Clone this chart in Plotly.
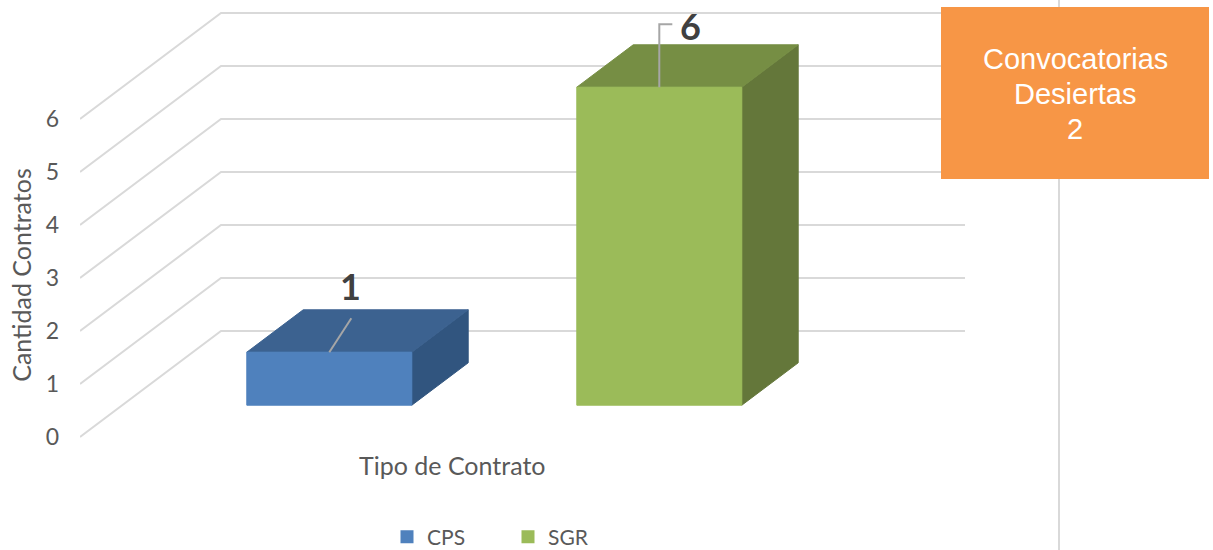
import plotly.graph_objects as go

# ---- data -------------------------------------------------------------
category = "Tipo de Contrato"
series_names = ["CPS", "SGR"]
series_values = [1, 6]
y_ticks = [0, 1, 2, 3, 4, 5, 6]
desiertas = 2

# ---- styling ------------------------------------------------------------
FRONT = ["#4F81BD", "#9BBB59"]
TOP = ["#3C6290", "#768E44"]
SIDE = ["#31557F", "#64773A"]
GRID = "#D9D9D9"
TEXT = "#595959"
LABEL = "#404040"
FONT = "Lato, Calibri, sans-serif"
BOX_FONT = "Liberation Sans, Arial, sans-serif"

W, H = 1213, 550
M_LEFT = 80
PX_X = 744.0          # pixels per x unit (front edge of the floor = 1 unit)
PX_Y = 53.0           # pixels per value unit
Y_BASE = 437.0        # pixel row of value 0 on the front edge

X_RANGE = [0, (W - M_LEFT) / PX_X]
Y_RANGE = [-(H - Y_BASE) / PX_Y, Y_BASE / PX_Y]

# oblique projection of the depth axis
DEPTH_DX = 141 / PX_X
DEPTH_DY = 106 / PX_Y
BAR_W = 165 / PX_X
BAR_Z = (0.3, 0.7)

# per-label placement of the value labels (dx, dy) and their leader shape
LABEL_POS = [(0.028, 1.24), (0.0417, 1.15)]
LEADER_END = [[(0.0296, 0.64)], [(0.0, 1.19), (0.0175, 1.19)]]


def proj(x, v, z):
    return x + z * DEPTH_DX, v + z * DEPTH_DY


def px_to_paper_x(px):
    return (px - M_LEFT) / (W - M_LEFT)


def px_to_paper_y(py):
    return 1 - py / H


fig = go.Figure()

# gridlines: side wall slant then back wall
gx, gy = [], []
for v in y_ticks:
    for (x, z) in [(0, 0), (0, 1), (1, 1)]:
        px, py = proj(x, v, z)
        gx.append(px)
        gy.append(py)
    gx.append(None)
    gy.append(None)
fig.add_trace(go.Scatter(x=gx, y=gy, mode="lines",
                         line=dict(color=GRID, width=2),
                         hoverinfo="skip", showlegend=False))

n = len(series_values)
centers = [0.5 + (i - (n - 1) / 2) * 2 * BAR_W for i in range(n)]


def face(points, color):
    xs, ys = zip(*[proj(*p) for p in points])
    fig.add_trace(go.Scatter(x=list(xs) + [xs[0]], y=list(ys) + [ys[0]],
                             mode="lines", fill="toself", fillcolor=color,
                             line=dict(color=color, width=1),
                             hoverinfo="skip", showlegend=False))


z0, z1 = BAR_Z
for i, (name, v) in enumerate(zip(series_names, series_values)):
    x0, x1 = centers[i] - BAR_W / 2, centers[i] + BAR_W / 2
    face([(x1, 0, z0), (x1, 0, z1), (x1, v, z1), (x1, v, z0)], SIDE[i])
    face([(x0, v, z0), (x1, v, z0), (x1, v, z1), (x0, v, z1)], TOP[i])
    face([(x0, 0, z0), (x1, 0, z0), (x1, v, z0), (x0, v, z0)], FRONT[i])

    # leader line and value label
    ax, ay = proj(centers[i], v, z0)
    lx = [ax] + [ax + dx for dx, dy in LEADER_END[i]]
    ly = [ay] + [ay + dy for dx, dy in LEADER_END[i]]
    fig.add_trace(go.Scatter(x=lx, y=ly, mode="lines",
                             line=dict(color="#A6A6A6", width=2),
                             hoverinfo="skip", showlegend=False))
    fig.add_annotation(x=ax + LABEL_POS[i][0], y=ay + LABEL_POS[i][1],
                       text=f"<b>{v}</b>", showarrow=False,
                       xanchor="center", yanchor="middle",
                       font=dict(family=FONT, size=36, color=LABEL))

    # legend entry
    fig.add_trace(go.Scatter(x=[None], y=[None], mode="markers", name=name,
                             marker=dict(symbol="square", size=13,
                                         color=FRONT[i])))

# category label under the floor
cx, cy = proj(0.5, 0, 0)
fig.add_annotation(x=cx, y=cy - 28 / PX_Y, text=category, showarrow=False,
                   xanchor="center", yanchor="middle",
                   font=dict(family=FONT, size=25, color=TEXT))

# separator line and the summary box
fig.add_shape(type="line", xref="paper", yref="paper",
              x0=px_to_paper_x(1059), x1=px_to_paper_x(1059), y0=0, y1=1,
              line=dict(color=GRID, width=2), layer="below")
fig.add_shape(type="rect", xref="paper", yref="paper",
              x0=px_to_paper_x(941), x1=px_to_paper_x(1209),
              y0=px_to_paper_y(179), y1=px_to_paper_y(7),
              fillcolor="#F79646", line=dict(width=0), layer="above")
box_lines = ["Convocatorias", "Desiertas", str(desiertas)]
for k, line in enumerate(box_lines):
    fig.add_annotation(xref="paper", yref="paper",
                       x=px_to_paper_x(1075), y=px_to_paper_y(59 + 35 * k),
                       xanchor="center", yanchor="middle",
                       text=line, showarrow=False,
                       font=dict(family=BOX_FONT, size=29, color="white"))

fig.update_layout(
    width=W, height=H,
    margin=dict(l=M_LEFT, r=0, t=0, b=0, autoexpand=False),
    paper_bgcolor="white", plot_bgcolor="white",
    xaxis=dict(range=X_RANGE, visible=False, fixedrange=True),
    yaxis=dict(range=Y_RANGE, tickvals=y_ticks, showgrid=False,
               zeroline=False, showline=False, ticks="",
               ticklabelstandoff=20,
               tickfont=dict(family=FONT, size=23, color=TEXT),
               title=dict(text="Cantidad Contratos", standoff=6,
                          font=dict(family=FONT, size=25, color=TEXT)),
               fixedrange=True),
    showlegend=True,
    legend=dict(orientation="h", x=px_to_paper_x(387), xanchor="left",
                y=px_to_paper_y(537), yanchor="middle",
                entrywidth=76, entrywidthmode="pixels",
                font=dict(family=FONT, size=21, color=TEXT),
                bgcolor="rgba(0,0,0,0)"),
)

fig.write_html("out.html")
